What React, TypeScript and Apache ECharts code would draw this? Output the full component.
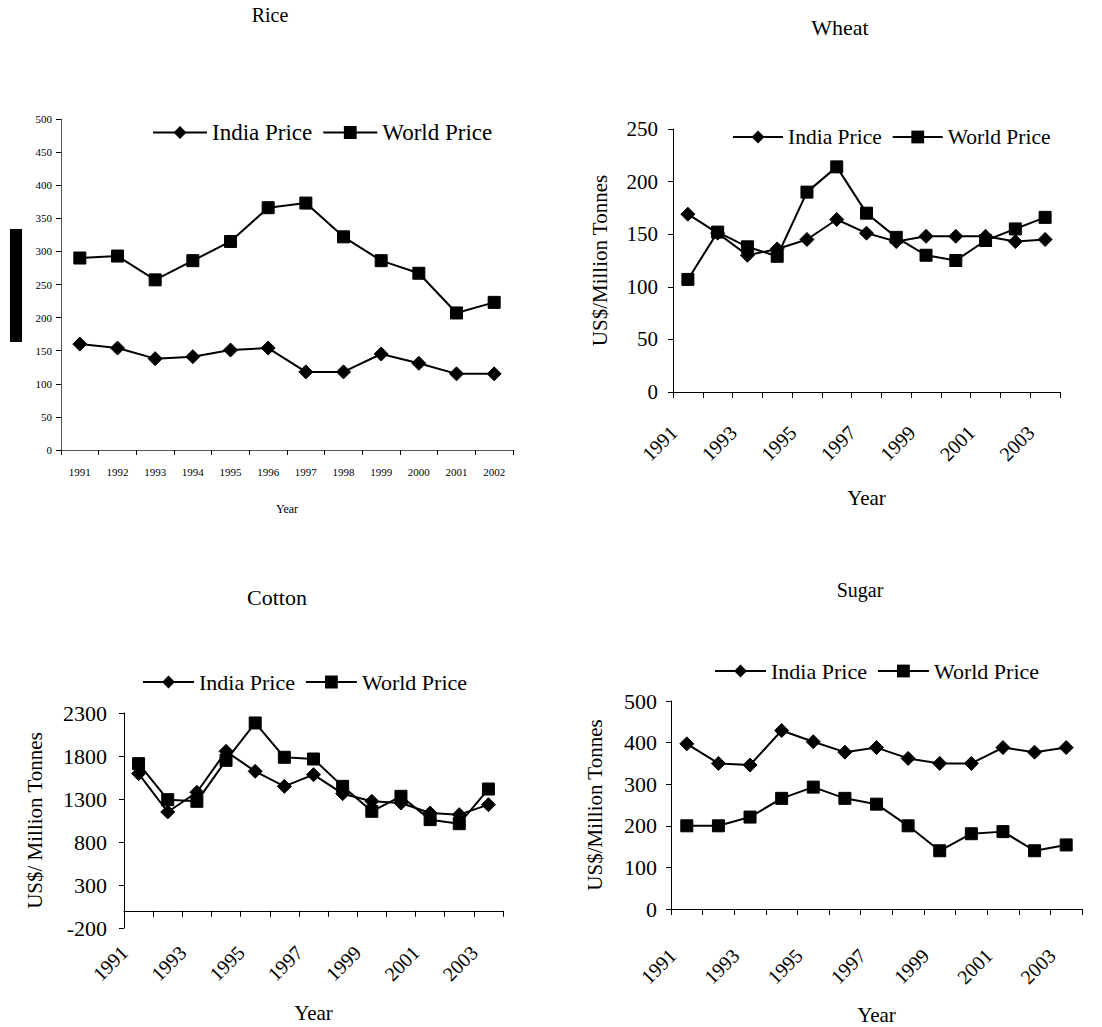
import React, { useEffect, useRef } from 'react';
import * as echarts from 'echarts';

const riceYears = ['1991', '1992', '1993', '1994', '1995', '1996', '1997', '1998', '1999', '2000', '2001', '2002'];
const riceIndia = [160, 154, 138, 141, 151, 154, 118, 118, 145, 131, 115, 115];
const riceWorld = [290, 293, 257, 286, 315, 366, 373, 322, 286, 267, 207, 223];

const years = ['1991', '1992', '1993', '1994', '1995', '1996', '1997', '1998', '1999', '2000', '2001', '2002', '2003'];
const wheatIndia = [169, 151, 130, 136, 145, 164, 151, 143, 148, 148, 148, 143, 145];
const wheatWorld = [107, 152, 138, 129, 190, 214, 170, 147, 130, 125, 144, 155, 166];
const cottonIndia = [1595, 1149, 1378, 1854, 1622, 1447, 1583, 1362, 1273, 1253, 1137, 1118, 1234];
const cottonWorld = [1711, 1292, 1273, 1750, 2184, 1785, 1765, 1447, 1157, 1331, 1060, 1013, 1416];
const sugarIndia = [397, 350, 346, 429, 402, 377, 388, 362, 350, 350, 388, 377, 388];
const sugarWorld = [200, 200, 221, 266, 293, 266, 252, 200, 140, 181, 186, 140, 154];

const titles = ['Rice', 'Wheat', 'Cotton', 'Sugar'];
const seriesNames = ['India Price', 'World Price'];

const FONT = 'Liberation Serif';

export default function App() {
  const ref = useRef<HTMLDivElement>(null);
  useEffect(() => {
    if (!ref.current) return;
    const chart = echarts.init(ref.current, null, { renderer: 'svg' });

    const grids = [
      { left: 61, top: 119, width: 452, height: 331 },
      { left: 673, top: 129, width: 387, height: 263 },
      { left: 124, top: 713, width: 379, height: 215 },
      { left: 671, top: 701, width: 411, height: 208 },
    ].map((g) => ({ ...g, containLabel: false, outerBoundsMode: 'none' }));

    const black = '#000';
    const axisLineBlack = { show: true, lineStyle: { color: black, width: 1 } };
    const plain = (v: number) => String(v);

    const rotatedX = (gridIndex: number, nameGap: number, margin: number) => ({
      type: 'category',
      gridIndex,
      data: years,
      boundaryGap: true,
      name: 'Year',
      nameLocation: 'middle',
      nameGap,
      nameMoveOverlap: false,
      nameTextStyle: { fontFamily: FONT, fontSize: 21, color: black, verticalAlign: 'top' },
      axisLine: { ...axisLineBlack, onZero: true },
      axisTick: { show: true, interval: 0, length: 6, lineStyle: { color: black } },
      axisLabel: {
        interval: 1,
        rotate: 45,
        margin,
        padding: [0, 20, 0, 0],
        fontFamily: FONT,
        fontSize: 20,
        color: black,
        hideOverlap: false,
      },
      splitLine: { show: false },
    });

    const valueY = (gridIndex: number, min: number, max: number, interval: number, name: string, nameGap: number, fontSize: number, margin: number) => ({
      type: 'value',
      gridIndex,
      min,
      max,
      interval,
      name,
      nameLocation: 'middle',
      nameGap,
      nameMoveOverlap: false,
      nameTextStyle: { fontFamily: FONT, fontSize: 21, color: black },
      axisLine: axisLineBlack,
      axisTick: { show: true, length: 5, lineStyle: { color: black } },
      axisLabel: { fontFamily: FONT, fontSize, color: black, margin, formatter: plain },
      splitLine: { show: false },
    });

    const xAxes = [
      {
        type: 'category',
        gridIndex: 0,
        data: riceYears,
        boundaryGap: true,
        name: 'Year',
        nameLocation: 'middle',
        nameGap: 53,
        nameMoveOverlap: false,
        nameTextStyle: { fontFamily: FONT, fontSize: 12, color: black, verticalAlign: 'top' },
        axisLine: { show: true, lineStyle: { color: '#555', width: 1 } },
        axisTick: { show: true, interval: 0, length: 5, lineStyle: { color: black } },
        axisLabel: { interval: 0, margin: 16, fontFamily: FONT, fontSize: 11, color: black, hideOverlap: false },
        splitLine: { show: false },
      },
      rotatedX(1, 95, 23),
      rotatedX(2, 74, 7),
      rotatedX(3, 95, 29),
    ];

    const yAxes = [
      {
        type: 'value',
        gridIndex: 0,
        min: 0,
        max: 500,
        interval: 50,
        axisLine: { show: true, lineStyle: { color: '#555', width: 1 } },
        axisTick: { show: true, length: 5, lineStyle: { color: black } },
        axisLabel: { fontFamily: FONT, fontSize: 11, color: black, margin: 9, formatter: plain },
        splitLine: { show: false },
      },
      valueY(1, 0, 250, 50, 'US$/Million Tonnes', 63, 21, 15),
      valueY(2, -200, 2300, 500, 'US$/ Million Tonnes', 79, 22, 17),
      valueY(3, 0, 500, 100, 'US$/Million Tonnes', 66, 22, 14),
    ];

    const datasets = [
      [riceIndia, riceWorld],
      [wheatIndia, wheatWorld],
      [cottonIndia, cottonWorld],
      [sugarIndia, sugarWorld],
    ];

    const series: any[] = [];
    datasets.forEach((pair, i) => {
      pair.forEach((vals, k) => {
        series.push({
          type: 'line',
          name: seriesNames[k],
          xAxisIndex: i,
          yAxisIndex: i,
          data: vals,
          symbol: k === 0 ? 'diamond' : 'rect',
          symbolSize: k === 0 ? 14 : 12,
          showAllSymbol: true,
          lineStyle: { color: black, width: 2 },
          itemStyle: { color: black, borderColor: black },
          emphasis: { disabled: true },
        });
      });
    });

    const legendBase = (left: number, top: number, itemWidth: number, fontSize: number) => ({
      left,
      top,
      orient: 'horizontal',
      data: seriesNames,
      itemWidth,
      itemHeight: 16,
      itemGap: 10,
      padding: 0,
      selectedMode: false,
      textStyle: { fontFamily: FONT, fontSize, color: black },
    });

    const legends = [
      legendBase(152, 121, 54, 23),
      legendBase(732, 126, 50, 21.5),
      legendBase(142, 671, 51, 22),
      legendBase(714, 660, 51, 22),
    ];

    const titlePos = [
      { x: 270, y: 15, size: 20 },
      { x: 840, y: 27, size: 22 },
      { x: 277, y: 597, size: 22 },
      { x: 860, y: 590, size: 20 },
    ];

    const graphic: any[] = titlePos.map((p, i) => ({
      type: 'text',
      x: p.x,
      y: p.y,
      style: {
        text: titles[i],
        fill: black,
        fontFamily: FONT,
        fontSize: p.size,
        align: 'center',
        verticalAlign: 'middle',
      },
    }));
    graphic.push({
      type: 'rect',
      shape: { x: 10, y: 229, width: 12, height: 113 },
      style: { fill: black },
    });

    chart.setOption({
      animation: false,
      backgroundColor: '#fff',
      textStyle: { fontFamily: FONT },
      grid: grids,
      xAxis: xAxes,
      yAxis: yAxes,
      legend: legends,
      series,
      graphic,
    });

    return () => chart.dispose();
  }, []);

  return (
    <div
      ref={ref}
      style={{ position: 'absolute', left: 0, top: 0, width: 1102, height: 1027 }}
    />
  );
}
